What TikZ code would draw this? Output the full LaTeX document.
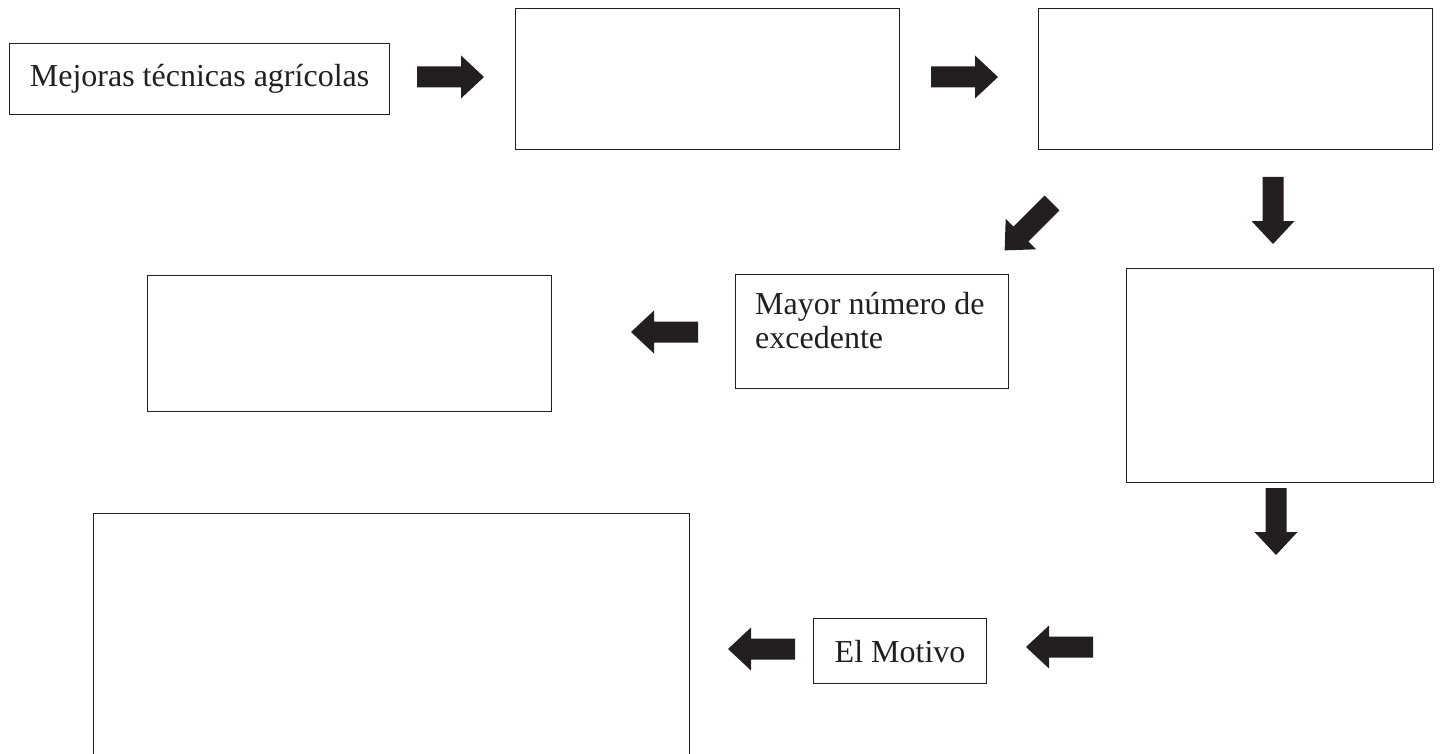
\documentclass[tikz,border=0pt]{standalone}
\usepackage{fontspec}
\setmainfont{Liberation Serif}
\definecolor{ink}{HTML}{231F20}
\tikzset{
  box/.style={draw=ink, line width=1.1pt, inner sep=0pt, anchor=north west},
  txt/.style={font=\fontsize{32}{34}\selectfont, text=ink},
  barrow/.pic={\fill[ink] (0,-10.5) -- (44,-10.5) -- (44,-21.5) -- (67,0) -- (44,21.5) -- (44,10.5) -- (0,10.5) -- cycle;}
}
\begin{document}
\begin{tikzpicture}[x=1pt,y=-1pt]
\useasboundingbox (0,0) rectangle (1450,754);
\clip (0,0) rectangle (1450,754);
% boxes
\node[box, minimum width=380pt, minimum height=71pt, txt] (a) at (9,43) {Mejoras técnicas agrícolas};
\node[box, minimum width=384pt, minimum height=141pt] (b) at (515,8) {};
\node[box, minimum width=394pt, minimum height=141pt] (c) at (1038,8) {};
\node[box, minimum width=404pt, minimum height=136pt] (d) at (147,275) {};
\node[box, minimum width=273pt, minimum height=114pt] (may) at (735,274) {};
\node[txt, anchor=north west, align=left, inner sep=0pt] (maytxt) at (755,292) {Mayor número de\\excedente};
\node[box, minimum width=307pt, minimum height=214pt] (e) at (1126,268) {};
\node[box, minimum width=596pt, minimum height=250pt] (f) at (93,513) {};
\node[box, minimum width=173pt, minimum height=65pt, txt] (mot) at (813,618) {El Motivo};
% block arrows
\pic at (417,77) {barrow};
\pic at (931,77) {barrow};
\pic[rotate=-90] at (1273,177) {barrow};
\pic[rotate=-135] at (1052,203) {barrow};
\pic[rotate=180] at (698,332) {barrow};
\pic[rotate=-90] at (1276,488) {barrow};
\pic[rotate=180] at (1093,647) {barrow};
\pic[rotate=180] at (795,649) {barrow};
\end{tikzpicture}
\end{document}
